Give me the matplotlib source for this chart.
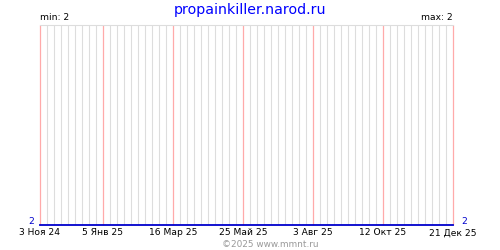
import matplotlib
matplotlib.use("Agg")
import matplotlib.pyplot as plt
import matplotlib.dates as mdates
import pandas as pd

# series (flat: same value at start and end of the period)
dates = ["2024-11-03", "2025-12-21"]
values = [2, 2]

tick_dates = ["2024-11-03", "2025-01-05", "2025-03-16", "2025-05-25",
              "2025-08-03", "2025-10-12", "2025-12-21"]
tick_labels = ["3 Ноя 24", "5 Янв 25", "16 Мар 25", "25 Май 25",
               "3 Авг 25", "12 Окт 25", "21 Дек 25"]

title = "propainkiller.narod.ru"
footer = "©2025 www.mmnt.ru"

x = pd.to_datetime(dates)
ticks = pd.to_datetime(tick_dates)

fig = plt.figure(figsize=(5, 2.5), dpi=100)
ax = fig.add_axes([40 / 500, 25 / 250, 413 / 500, 200 / 250])

ax.plot(x, values, color="#0000cc", lw=1.3, zorder=3, clip_on=False)
ax.set_xlim(x[0], x[-1])
ax.set_ylim(min(values), min(values) + 1)

ax.xaxis.set_minor_locator(mdates.WeekdayLocator(byweekday=mdates.SU))
ax.set_xticks(ticks)
ax.set_xticklabels(tick_labels, fontsize=6.6)
ax.grid(which="minor", axis="x", color="#dddddd", lw=0.8, zorder=0)
# month-ish marks in pink, drawn on top of the weekly grey lines
ax.vlines(ticks, 0, 1, transform=ax.get_xaxis_transform(),
          color="#ffaaaa", lw=0.9, zorder=1, clip_on=False)
ax.tick_params(which="both", length=0, pad=2.5)
ax.set_yticks([])

for s in ["left", "right", "bottom"]:
    ax.spines[s].set_visible(False)
ax.spines["top"].set_color("#dddddd")
ax.spines["top"].set_linewidth(0.8)

fig.text(0.5, 0.96, title, color="#0000ff", fontsize=10.2, ha="center", va="center")
fig.text(40 / 500, 1 - 18 / 250, "min: %d" % min(values), fontsize=6.6, ha="left", va="center")
fig.text(453 / 500, 1 - 18 / 250, "max: %d" % max(values), fontsize=6.6, ha="right", va="center")
fig.text(31 / 500, 1 - 221 / 250, str(values[0]), color="#0000cc", fontsize=6.6, ha="center", va="center")
fig.text(464 / 500, 1 - 221 / 250, str(values[-1]), color="#0000cc", fontsize=6.6, ha="center", va="center")
fig.text(270 / 500, 1 - 244.5 / 250, footer, color="#999999", fontsize=6.4, ha="center", va="center")

fig.savefig("out.png", dpi=100)
